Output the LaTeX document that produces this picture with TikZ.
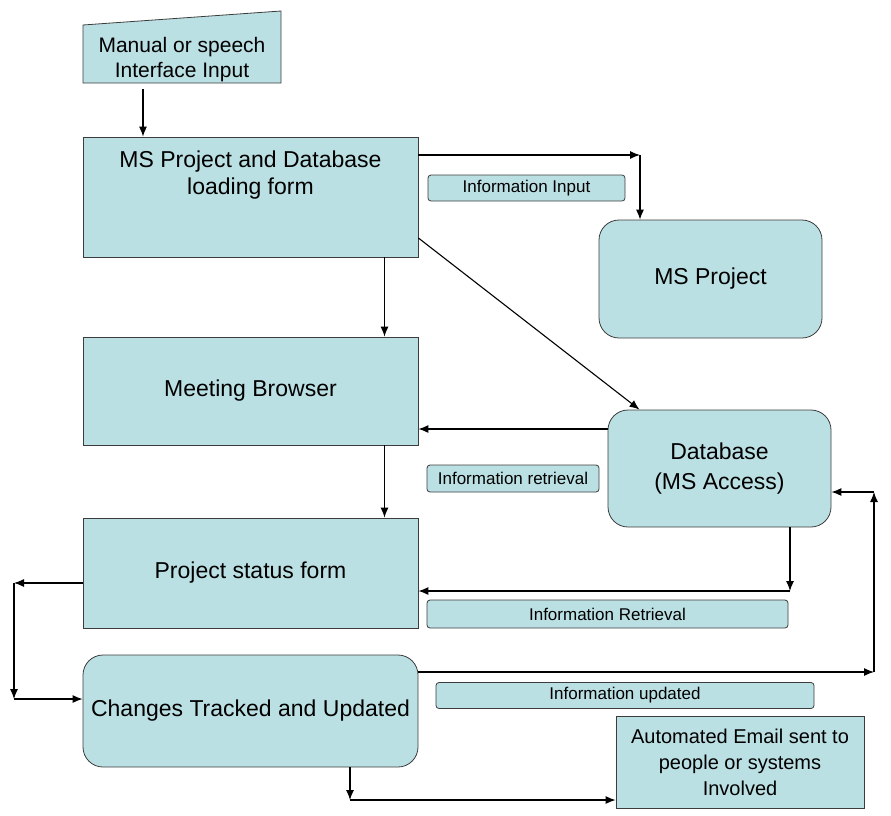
\documentclass[tikz,border=0pt]{standalone}
\usepackage{fontspec}
\setmainfont{Liberation Sans}
\usetikzlibrary{arrows.meta}
\definecolor{boxcyan}{RGB}{187,224,227}
\definecolor{edgegray}{RGB}{60,60,60}

\begin{document}
\begin{tikzpicture}[x=1pt, y=-1pt,
	box/.style={draw=edgegray, fill=boxcyan, line width=0.8pt, align=center, inner sep=0pt, font=\fontsize{23}{27}\selectfont},
	rbox/.style={box, rounded corners=20pt},
	tag/.style={draw=edgegray, fill=boxcyan, line width=0.8pt, rounded corners=3pt, inner sep=0pt, font=\fontsize{17}{20}\selectfont},
	arr/.style={-{Latex[length=10pt, width=8pt]}, line width=1.1pt}]
						\useasboundingbox (0,0) rectangle (891,815);
						\draw[draw=edgegray, fill=boxcyan, line width=0.8pt] (83,25) -- (281,11) -- (281,83) -- (83,83) -- cycle;
						\node[align=center, minimum width=198pt, minimum height=58pt, inner sep=0pt, font=\fontsize{21}{25}\selectfont] (manual) at (182,60) {Manual or speech\\Interface Input};
						\node[box, minimum width=335pt, minimum height=120pt] (form) at (250.5,197) {};
						\node[align=center, font=\fontsize{23}{27}\selectfont] (formtext) at (250.5,175) {MS Project and Database\\loading form};
						\node[box, minimum width=335pt, minimum height=108pt] (browser) at (250.5,391) {Meeting Browser};
						\node[box, minimum width=335pt, minimum height=110pt] (status) at (250.5,573) {Project status form};
						\node[rbox, minimum width=335pt, minimum height=112pt] (changes) at (250.5,711) {Changes Tracked and Updated};
						\node[rbox, minimum width=223pt, minimum height=118pt] (msproj) at (710.5,279) {MS Project};
						\node[rbox, minimum width=223pt, minimum height=117pt, font=\fontsize{23}{30}\selectfont] (db) at (719.5,468.5) {Database\\(MS Access)};
						\node[box, minimum width=248pt, minimum height=92pt, font=\fontsize{20}{26}\selectfont] (email) at (740,762) {Automated Email sent to\\people or systems\\Involved};
						\node[tag, minimum width=197pt, minimum height=26pt] (inp) at (526.5,188) {Information Input};
						\node[tag, minimum width=172pt, minimum height=27pt] (retr) at (513,478.5) {Information retrieval};
						\node[tag, minimum width=361pt, minimum height=28pt] (retrb) at (607.5,614) {Information Retrieval};
						\node[tag, minimum width=378pt, minimum height=26pt] (upd) at (625,695.5) {Information updated};
						% corners of the bent connectors
						\coordinate (c1) at (640,155);
						\coordinate (c2) at (790,591);
						\coordinate (c3) at (14,583);
						\coordinate (c4) at (14,699);
						\coordinate (c5) at (874,672);
						\coordinate (c6) at (874,492);
						\coordinate (c7) at (350,800);
						\draw[arr] ([xshift=-39pt]manual.south) -- ([xshift=-39pt]manual.south |- form.north);
						\draw[arr] (form.east |- c1) -- (c1);
						\draw[arr] (c1) -- (c1 |- msproj.north);
						\draw[arr] ([yshift=-41pt]form.east) -- ([xshift=-80pt]db.north);
						\draw[arr] ([xshift=134pt]form.south) -- ([xshift=134pt]browser.north);
						\draw[arr] ([yshift=39.5pt]db.west) -- ([yshift=39.5pt]db.west -| browser.east);
						\draw[arr] ([xshift=134pt]browser.south) -- ([xshift=134pt]status.north);
						\draw[arr] (db.south -| c2) -- (c2);
						\draw[arr] (c2) -- (c2 -| status.east);
						\draw[arr] (status.west |- c3) -- (c3);
						\draw[arr] (c3) -- (c4);
						\draw[arr] (c4) -- (c4 -| changes.west);
						\draw[arr] (changes.east |- c5) -- (c5);
						\draw[arr] (c5) -- (c6);
						\draw[arr] (c6) -- (c6 -| db.east);
						\draw[arr] (changes.south -| c7) -- (c7);
						\draw[arr] (c7) -- (c7 -| email.west);
\end{tikzpicture}
\end{document}
